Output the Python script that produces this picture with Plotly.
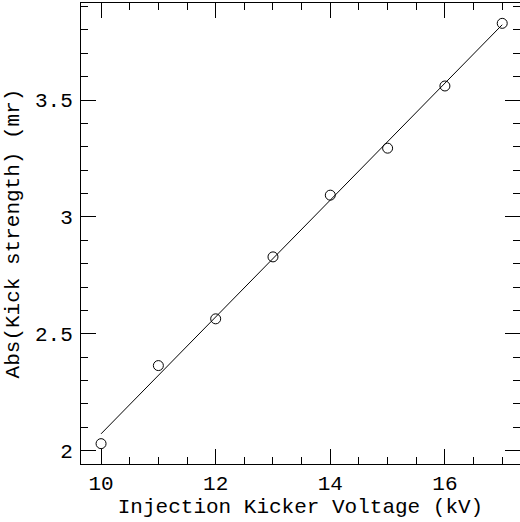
import plotly.graph_objects as go

voltage_kv = [10, 11, 12, 13, 14, 15, 16, 17]
kick_mr = [2.03, 2.364, 2.564, 2.829, 3.093, 3.294, 3.56, 3.828]
fit_x = [10, 17]
fit_y = [2.072, 3.822]

FONT = "Liberation Mono"
FS = 21

fig = go.Figure()
fig.add_trace(go.Scatter(x=fit_x, y=fit_y, mode="lines",
                         line=dict(color="black", width=1), hoverinfo="skip"))
fig.add_trace(go.Scatter(x=voltage_kv, y=kick_mr, mode="markers",
                         marker=dict(symbol="circle-open", size=10,
                                     color="black", line=dict(width=1))))

axis_common = dict(showgrid=False, zeroline=False, showline=True, automargin=False,
                   linecolor="black", linewidth=1, mirror="allticks",
                   ticks="inside", ticklen=15, tickwidth=1, tickcolor="black",
                   tickfont=dict(family=FONT, size=FS, color="black"))

fig.update_xaxes(range=[9.65, 17.31], dtick=2, tick0=10,
                 minor=dict(dtick=0.5, ticklen=7, ticks="inside", tickcolor="black", tickwidth=1),
                 title=dict(text="Injection Kicker Voltage (kV)",
                            font=dict(family=FONT, size=FS, color="black"), standoff=2),
                 **axis_common)
fig.update_yaxes(range=[1.943, 3.915], dtick=0.5, tick0=2,
                 minor=dict(dtick=0.1, ticklen=7, ticks="inside", tickcolor="black", tickwidth=1),
                 title=dict(text="Abs(Kick strength) (mr)",
                            font=dict(family=FONT, size=FS, color="black"), standoff=9),
                 ticklabelstandoff=3,
                 **axis_common)

fig.update_layout(width=520, height=522, showlegend=False,
                  margin=dict(l=81, r=0, t=3, b=58),
                  paper_bgcolor="white", plot_bgcolor="white")
fig.write_html("out.html", config={"displayModeBar": False},
               post_script="document.body.style.margin='0px';")
